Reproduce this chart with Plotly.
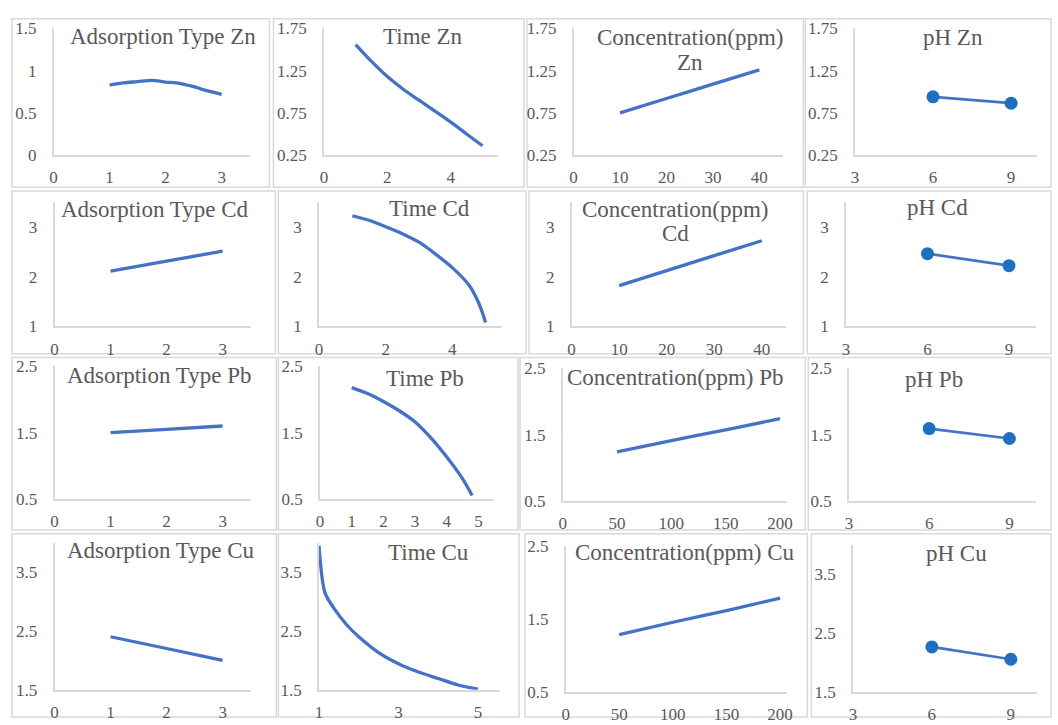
import plotly.graph_objects as go

# ---------------- data ----------------
zn_ads_x = [1, 1.25, 1.5, 1.75, 2, 2.25, 2.5, 2.75, 3]
zn_ads_y = [0.83, 0.855, 0.87, 0.885, 0.865, 0.85, 0.81, 0.76, 0.72]
zn_time_x = [1, 1.5, 2, 2.5, 3, 3.5, 4, 4.5, 5]
zn_time_y = [1.56, 1.36, 1.18, 1.03, 0.9, 0.77, 0.64, 0.5, 0.36]
zn_conc_x = [10, 20, 30, 40]
zn_conc_y = [0.75, 0.92, 1.09, 1.26]
zn_ph_x = [6, 9]
zn_ph_y = [0.94, 0.865]

cd_ads_x = [1, 2, 3]
cd_ads_y = [2.11, 2.31, 2.51]
cd_time_x = [1, 1.5, 2, 2.5, 3, 3.5, 4, 4.5, 4.8, 5]
cd_time_y = [3.22, 3.13, 3.0, 2.86, 2.69, 2.45, 2.18, 1.83, 1.46, 1.08]
cd_conc_x = [10, 20, 30, 40]
cd_conc_y = [1.82, 2.12, 2.42, 2.72]
cd_ph_x = [6, 9]
cd_ph_y = [2.46, 2.22]

pb_ads_x = [1, 2, 3]
pb_ads_y = [1.5, 1.55, 1.6]
pb_time_x = [1, 1.5, 2, 2.5, 3, 3.5, 4, 4.5, 4.8]
pb_time_y = [2.18, 2.09, 1.97, 1.83, 1.66, 1.42, 1.13, 0.8, 0.55]
pb_conc_x = [50, 100, 150, 200]
pb_conc_y = [1.24, 1.41, 1.57, 1.74]
pb_ph_x = [6, 9]
pb_ph_y = [1.59, 1.44]

cu_ads_x = [1, 2, 3]
cu_ads_y = [2.4, 2.2, 2.0]
cu_time_x = [1, 1.15, 1.4, 1.7, 2, 2.5, 3, 3.5, 4, 4.5, 5]
cu_time_y = [3.95, 3.15, 2.86, 2.6, 2.4, 2.13, 1.94, 1.8, 1.69, 1.58, 1.51]
cu_conc_x = [50, 100, 150, 200]
cu_conc_y = [1.28, 1.45, 1.61, 1.78]
cu_ph_x = [6, 9]
cu_ph_y = [2.26, 2.05]

# tick labels
xt_ads = [0, 1, 2, 3]
xt_time = [0, 2, 4]
xt_time_pb = [0, 1, 2, 3, 4, 5]
xt_time_cu = [1, 3, 5]
xt_conc_small = [0, 10, 20, 30, 40]
xt_conc_big = [0, 50, 100, 150, 200]
xt_ph = [3, 6, 9]

yt_zn_ads = [0, 0.5, 1, 1.5]
yt_zn_ads_text = ["0", "0.5", "1", "1.5"]
yt_zn = [0.25, 0.75, 1.25, 1.75]
yt_zn_text = ["0.25", "0.75", "1.25", "1.75"]
yt_cd = [1, 2, 3]
yt_cd_text = ["1", "2", "3"]
yt_pb = [0.5, 1.5, 2.5]
yt_pb_text = ["0.5", "1.5", "2.5"]
yt_cu = [1.5, 2.5, 3.5]
yt_cu_text = ["1.5", "2.5", "3.5"]

titles = [
    "Adsorption Type Zn", "Time Zn", "Concentration(ppm)<br>Zn", "pH Zn",
    "Adsorption Type Cd", "Time Cd", "Concentration(ppm)<br>Cd", "pH Cd",
    "Adsorption Type Pb", "Time Pb", "Concentration(ppm) Pb", "pH Pb",
    "Adsorption Type Cu", "Time Cu", "Concentration(ppm) Cu", "pH Cu",
]

# ---------------- layout config ----------------
W, H = 1058, 725
FONT = "Liberation Serif, Times New Roman, serif"
GRAY = "#595959"
LINEC = "#D9D9D9"
BLUE = "#4472C4"
MARK = "#1F6FC0"
TITLE_LINE_GAP = 25

# (x data, y data, kind, xrange, xticks, yrange, yticks, yticktext,
#  plot box px (x0,x1,ytop,ybot), border px (x0,x1,y0,y1), title center px)
panels = [
    (zn_ads_x, zn_ads_y, "line", [0, 3.5], xt_ads, [0, 1.5], yt_zn_ads, yt_zn_ads_text,
     (50, 248, 20, 150), (8, 268, 10, 183), (161, 28)),
    (zn_time_x, zn_time_y, "line", [0, 5.5], xt_time, [0.25, 1.75], yt_zn, yt_zn_text,
     (323, 499, 20, 150), (272, 525, 10, 183), (423, 28)),
    (zn_conc_x, zn_conc_y, "line", [0, 45], xt_conc_small, [0.25, 1.75], yt_zn, yt_zn_text,
     (575, 786, 20, 150), (528, 807, 10, 183), (693, 42)),
    (zn_ph_x, zn_ph_y, "marker", [3, 10], xt_ph, [0.25, 1.75], yt_zn, yt_zn_text,
     (859, 1043, 20, 150), (809, 1057, 10, 183), (958, 29)),

    (cd_ads_x, cd_ads_y, "line", [0, 3.5], xt_ads, [1, 3.5], yt_cd, yt_cd_text,
     (51, 249, 198, 326), (8, 274, 187, 354), (152, 206)),
    (cd_time_x, cd_time_y, "line", [0, 5.5], xt_time, [1, 3.5], yt_cd, yt_cd_text,
     (318, 503, 198, 326), (277, 527, 187, 354), (430, 205)),
    (cd_conc_x, cd_conc_y, "line", [0, 45], xt_conc_small, [1, 3.5], yt_cd, yt_cd_text,
     (573, 789, 198, 326), (530, 807, 187, 354), (678, 218)),
    (cd_ph_x, cd_ph_y, "marker", [3, 10], xt_ph, [1, 3.5], yt_cd, yt_cd_text,
     (850, 1042, 198, 326), (811, 1057, 187, 354), (942, 204)),

    (pb_ads_x, pb_ads_y, "line", [0, 3.5], xt_ads, [0.5, 2.5], yt_pb, yt_pb_text,
     (51, 249, 367, 503), (8, 275, 358, 535), (157, 376)),
    (pb_time_x, pb_time_y, "line", [0, 5.5], xt_time_pb, [0.5, 2.5], yt_pb, yt_pb_text,
     (319, 495, 367, 503), (277, 519, 358, 535), (425, 379)),
    (pb_conc_x, pb_conc_y, "line", [0, 206], xt_conc_big, [0.5, 2.5], yt_pb, yt_pb_text,
     (564, 790, 369, 505), (521, 809, 358, 535), (678, 378)),
    (pb_ph_x, pb_ph_y, "marker", [3, 10], xt_ph, [0.5, 2.5], yt_pb, yt_pb_text,
     (853, 1042, 369, 505), (812, 1057, 358, 535), (939, 380)),

    (cu_ads_x, cu_ads_y, "line", [0, 3.5], xt_ads, [1.5, 4], yt_cu, yt_cu_text,
     (51, 249, 548, 699), (8, 275, 539, 727), (158, 556)),
    (cu_time_x, cu_time_y, "line", [1, 5.56], xt_time_cu, [1.5, 4], yt_cu, yt_cu_text,
     (318, 501, 548, 699), (277, 520, 539, 727), (429, 558)),
    (cu_conc_x, cu_conc_y, "line", [0, 206], xt_conc_big, [0.5, 2.5], yt_pb, yt_pb_text,
     (567, 790, 551, 701), (526, 811, 539, 727), (688, 558)),
    (cu_ph_x, cu_ph_y, "marker", [3, 10], xt_ph, [1.5, 4], yt_cu, yt_cu_text,
     (857, 1043, 550, 701), (815, 1057, 539, 727), (962, 559)),
]

fig = go.Figure()
layout = dict(
    width=W, height=H, margin=dict(l=0, r=0, t=0, b=0),
    paper_bgcolor="white", plot_bgcolor="white", showlegend=False,
    font=dict(family=FONT, color=GRAY, size=17),
)
shapes = []
annotations = []

for i, (xs, ys, kind, xr, xt, yr, yt, ytt, box, border, tpos) in enumerate(panels):
    n = i + 1
    xa = "xaxis" if n == 1 else f"xaxis{n}"
    ya = "yaxis" if n == 1 else f"yaxis{n}"
    xref = "x" if n == 1 else f"x{n}"
    yref = "y" if n == 1 else f"y{n}"
    x0, x1, yt0, yb0 = box
    layout[xa] = dict(
        domain=[x0 / W, x1 / W], anchor=yref, range=xr,
        tickmode="array", tickvals=xt, ticktext=[str(v) for v in xt],
        showgrid=False, zeroline=False, showline=True, linecolor=LINEC, linewidth=1.5,
        ticks="", ticklabelstandoff=6, tickfont=dict(family=FONT, size=17, color=GRAY),
        fixedrange=True,
    )
    layout[ya] = dict(
        domain=[1 - yb0 / H, 1 - yt0 / H], anchor=xref, range=yr,
        tickmode="array", tickvals=yt, ticktext=ytt,
        showgrid=False, zeroline=False, showline=True, linecolor=LINEC, linewidth=1.5,
        ticks="", ticklabelstandoff=12, tickfont=dict(family=FONT, size=17, color=GRAY),
        fixedrange=True,
    )
    if kind == "line":
        fig.add_trace(go.Scatter(
            x=xs, y=ys, mode="lines", xaxis=xref, yaxis=yref,
            line=dict(color=BLUE, width=3.3, shape="spline", smoothing=0.8),
            hoverinfo="x+y", cliponaxis=False,
        ))
    else:
        fig.add_trace(go.Scatter(
            x=xs, y=ys, mode="lines+markers", xaxis=xref, yaxis=yref,
            line=dict(color=BLUE, width=2.7),
            marker=dict(color=MARK, size=13),
            hoverinfo="x+y", cliponaxis=False,
        ))
    bx0, bx1, by0, by1 = border
    shapes.append(dict(
        type="rect", xref="paper", yref="paper",
        x0=bx0 / W, x1=bx1 / W, y0=1 - by1 / H, y1=1 - by0 / H,
        line=dict(color=LINEC, width=1.5), layer="below",
    ))
    lines = titles[i].split("<br>")
    for k, txt in enumerate(lines):
        cy = tpos[1] + (k - (len(lines) - 1) / 2) * TITLE_LINE_GAP
        annotations.append(dict(
            text=txt, xref="paper", yref="paper",
            x=tpos[0] / W, y=1 - cy / H, xanchor="center", yanchor="middle",
            showarrow=False, font=dict(family=FONT, size=23, color=GRAY),
        ))

layout["shapes"] = shapes
layout["annotations"] = annotations
fig.update_layout(**layout)
fig.write_html("out.html", post_script="document.body.style.margin='0';")
